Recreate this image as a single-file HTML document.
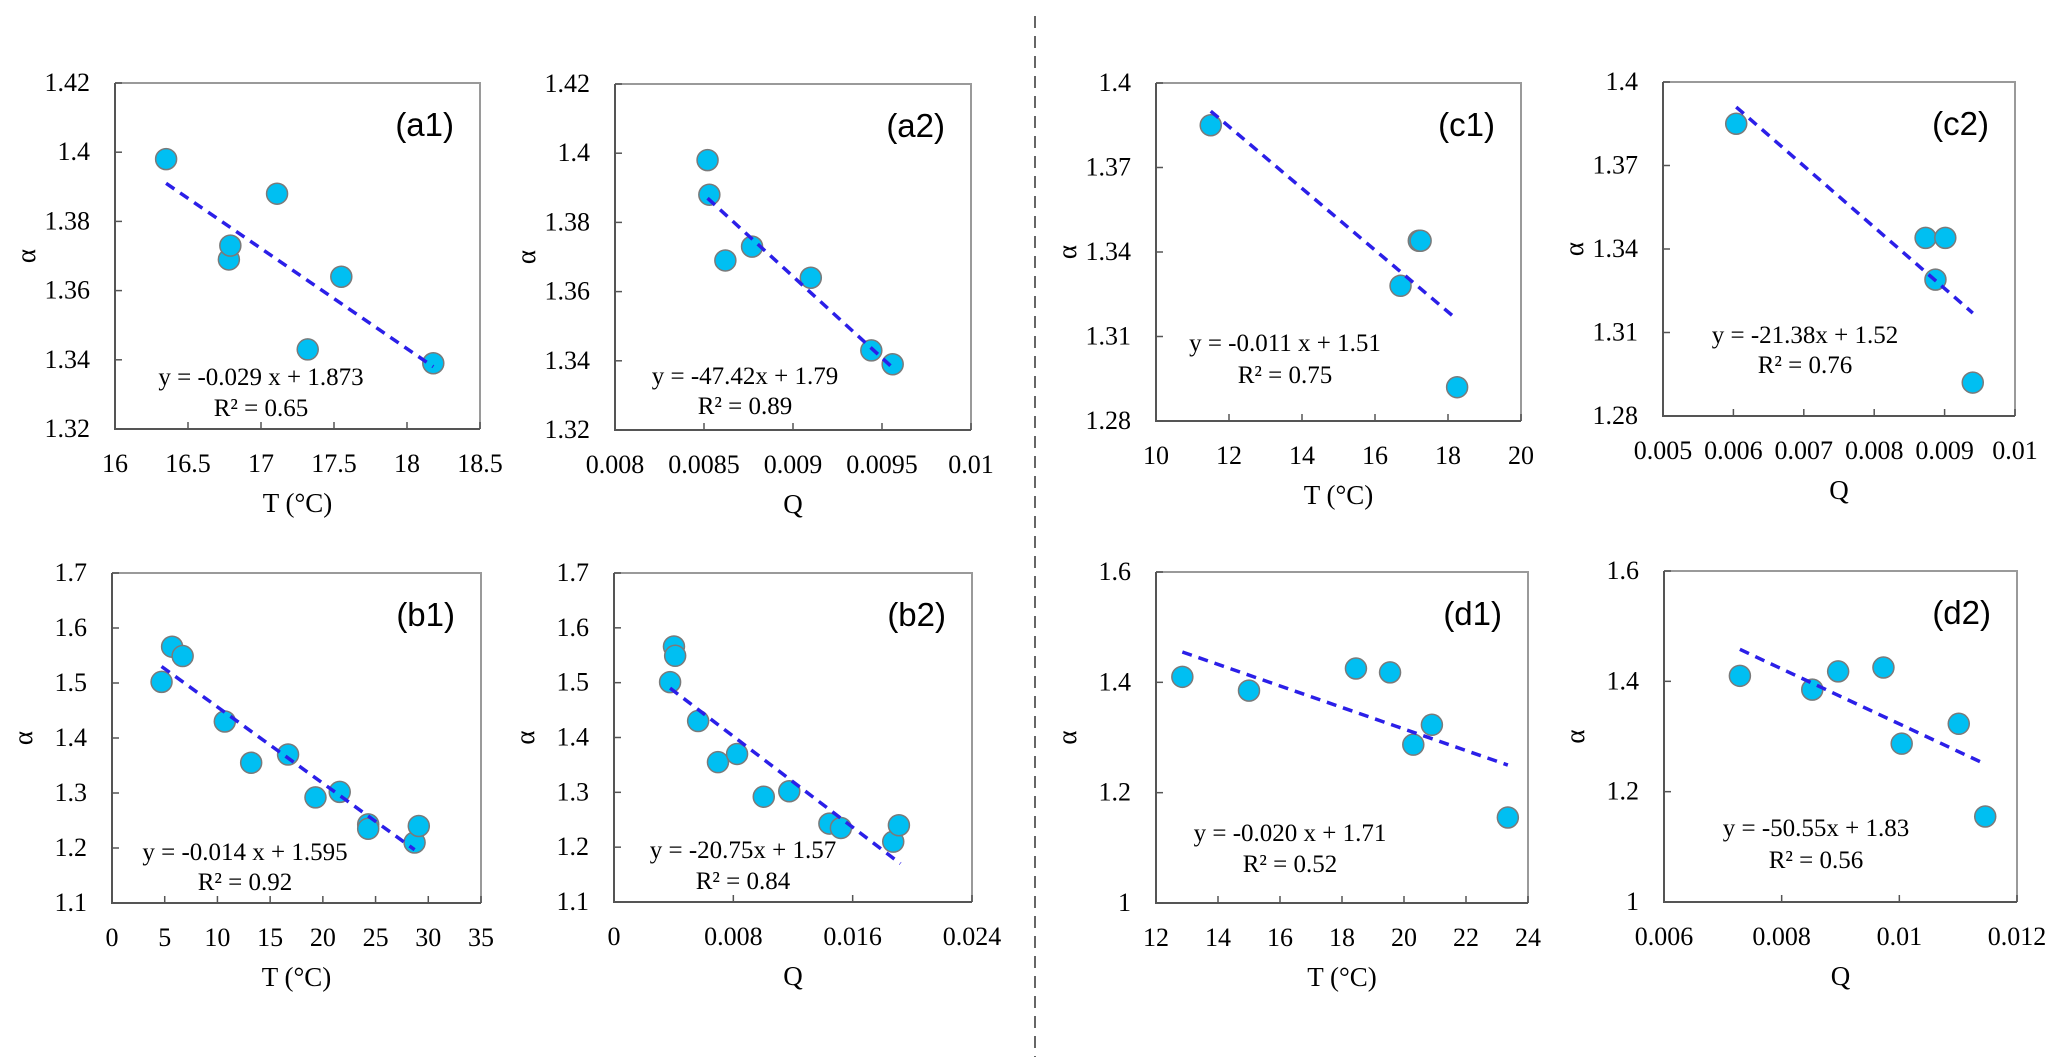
<!DOCTYPE html>
<html><head><meta charset="utf-8"><style>
html,body{margin:0;padding:0;background:#fff;}
svg{display:block;}
text{font-family:"Liberation Serif",serif;fill:#000;}
.pl{font-family:"Liberation Sans",sans-serif;font-size:33px;}
</style></head><body>
<svg id="fig" width="2067" height="1057" viewBox="0 0 2067 1057" xmlns="http://www.w3.org/2000/svg">
<line x1="1035" y1="16" x2="1035" y2="1057" stroke="#666" stroke-width="2" stroke-dasharray="12 8"/>
</svg>
<script>
// ---- data ----
const a1X=[16.35,16.78,16.79,17.11,17.55,17.32,18.18];
const a1Y=[1.398,1.369,1.373,1.388,1.364,1.343,1.339];
const a1TrendX=[16.35,18.18]; const a1TrendY=[1.391,1.338];
const a2X=[0.00852,0.00853,0.00862,0.00877,0.00910,0.00944,0.00956];
const a2Y=[1.398,1.388,1.369,1.373,1.364,1.343,1.339];
const a2TrendX=[0.00852,0.00956]; const a2TrendY=[1.387,1.338];
const b1X=[4.7,5.7,6.7,10.7,13.2,16.7,19.3,21.6,24.3,24.3,28.7,29.1];
const b1Y=[1.502,1.566,1.549,1.43,1.355,1.37,1.292,1.302,1.243,1.235,1.21,1.24];
const b1TrendX=[4.7,28.7]; const b1TrendY=[1.53,1.197];
const b2X=[0.00376,0.00402,0.0041,0.00564,0.00697,0.00825,0.01004,0.01175,0.01444,0.01521,0.01872,0.0191];
const b2Y=[1.501,1.566,1.549,1.43,1.355,1.37,1.292,1.302,1.243,1.235,1.21,1.24];
const b2TrendX=[0.00376,0.0192]; const b2TrendY=[1.49,1.17];
const c1X=[11.5,16.7,17.2,17.25,18.25];
const c1Y=[1.385,1.328,1.344,1.344,1.292];
const c1TrendX=[11.5,18.25]; const c1TrendY=[1.39,1.316];
const c2X=[0.00604,0.00873,0.00901,0.00887,0.0094];
const c2Y=[1.385,1.344,1.344,1.329,1.292];
const c2TrendX=[0.00604,0.0094]; const c2TrendY=[1.391,1.317];
const d1X=[12.85,15.0,18.45,19.55,20.3,20.9,23.35];
const d1Y=[1.41,1.385,1.425,1.418,1.287,1.323,1.155];
const d1TrendX=[12.85,23.35]; const d1TrendY=[1.455,1.25];
const d2X=[0.00729,0.00852,0.00896,0.00973,0.01004,0.01101,0.01146];
const d2Y=[1.41,1.385,1.418,1.425,1.287,1.323,1.155];
const d2TrendX=[0.00729,0.01146]; const d2TrendY=[1.458,1.25];
const aYTicks=[1.32,1.34,1.36,1.38,1.40,1.42]; const aYLabels=["1.32","1.34","1.36","1.38","1.4","1.42"];
const bYTicks=[1.1,1.2,1.3,1.4,1.5,1.6,1.7]; const bYLabels=["1.1","1.2","1.3","1.4","1.5","1.6","1.7"];
const cYTicks=[1.28,1.31,1.34,1.37,1.40]; const cYLabels=["1.28","1.31","1.34","1.37","1.4"];
const dYTicks=[1.0,1.2,1.4,1.6]; const dYLabels=["1","1.2","1.4","1.6"];
const a1XTicks=[16,16.5,17,17.5,18,18.5]; const a1XLabels=["16","16.5","17","17.5","18","18.5"];
const a2XTicks=[0.008,0.0085,0.009,0.0095,0.01]; const a2XLabels=["0.008","0.0085","0.009","0.0095","0.01"];
const b1XTicks=[0,5,10,15,20,25,30,35]; const b1XLabels=["0","5","10","15","20","25","30","35"];
const b2XTicks=[0,0.008,0.016,0.024]; const b2XLabels=["0","0.008","0.016","0.024"];
const c1XTicks=[10,12,14,16,18,20]; const c1XLabels=["10","12","14","16","18","20"];
const c2XTicks=[0.005,0.006,0.007,0.008,0.009,0.01]; const c2XLabels=["0.005","0.006","0.007","0.008","0.009","0.01"];
const d1XTicks=[12,14,16,18,20,22,24]; const d1XLabels=["12","14","16","18","20","22","24"];
const d2XTicks=[0.006,0.008,0.01,0.012]; const d2XLabels=["0.006","0.008","0.01","0.012"];

const panels=[
 {id:'a1',L:115,R:480,T:83,B:429,xs:a1X,ys:a1Y,tx:a1TrendX,ty:a1TrendY,yt:aYTicks,yl:aYLabels,xt:a1XTicks,xl:a1XLabels,xt2:'T (°C)',eq:'y = -0.029 x + 1.873',r2:'0.65',ex:146,e1:44,e2:13},
 {id:'a2',L:615,R:971,T:84,B:430,xs:a2X,ys:a2Y,tx:a2TrendX,ty:a2TrendY,yt:aYTicks,yl:aYLabels,xt:a2XTicks,xl:a2XLabels,xt2:'Q',eq:'y = -47.42x + 1.79',r2:'0.89',ex:130,e1:46,e2:16},
 {id:'b1',L:112,R:481,T:573,B:903,xs:b1X,ys:b1Y,tx:b1TrendX,ty:b1TrendY,yt:bYTicks,yl:bYLabels,xt:b1XTicks,xl:b1XLabels,xt2:'T (°C)',eq:'y = -0.014 x + 1.595',r2:'0.92',ex:133,e1:43,e2:13},
 {id:'b2',L:614,R:972,T:573,B:902,xs:b2X,ys:b2Y,tx:b2TrendX,ty:b2TrendY,yt:bYTicks,yl:bYLabels,xt:b2XTicks,xl:b2XLabels,xt2:'Q',eq:'y = -20.75x + 1.57',r2:'0.84',ex:129,e1:44,e2:13},
 {id:'c1',L:1156,R:1521,T:83,B:421,xs:c1X,ys:c1Y,tx:c1TrendX,ty:c1TrendY,yt:cYTicks,yl:cYLabels,xt:c1XTicks,xl:c1XLabels,xt2:'T (°C)',eq:'y = -0.011 x + 1.51',r2:'0.75',ex:129,e1:70,e2:38},
 {id:'c2',L:1663,R:2015,T:82,B:416,xs:c2X,ys:c2Y,tx:c2TrendX,ty:c2TrendY,yt:cYTicks,yl:cYLabels,xt:c2XTicks,xl:c2XLabels,xt2:'Q',eq:'y = -21.38x + 1.52',r2:'0.76',ex:142,e1:73,e2:43},
 {id:'d1',L:1156,R:1528,T:572,B:903,xs:d1X,ys:d1Y,tx:d1TrendX,ty:d1TrendY,yt:dYTicks,yl:dYLabels,xt:d1XTicks,xl:d1XLabels,xt2:'T (°C)',eq:'y = -0.020 x + 1.71',r2:'0.52',ex:134,e1:62,e2:31},
 {id:'d2',L:1664,R:2017,T:571,B:902,xs:d2X,ys:d2Y,tx:d2TrendX,ty:d2TrendY,yt:dYTicks,yl:dYLabels,xt:d2XTicks,xl:d2XLabels,xt2:'Q',eq:'y = -50.55x + 1.83',r2:'0.56',ex:152,e1:66,e2:34}
];
const NS='http://www.w3.org/2000/svg';
const svg=document.getElementById('fig');
function mk(tag,attrs,parent,txt){const e=document.createElementNS(NS,tag);for(const k in attrs)e.setAttribute(k,attrs[k]);if(txt!==undefined)e.textContent=txt;parent.appendChild(e);return e;}
panels.forEach(p=>{
  const g=mk('g',{},svg);
  
  
  const x0=p.xt[0],x1=p.xt[p.xt.length-1],y0=p.yt[0],y1=p.yt[p.yt.length-1];
  const sx=v=>p.L+(v-x0)/(x1-x0)*(p.R-p.L);
  const sy=v=>p.B-(v-y0)/(y1-y0)*(p.B-p.T);
  const fr=mk('path',{d:`M${p.L},${p.T}H${p.R}V${p.B}`,fill:'none',stroke:'#9a9a9a','stroke-width':2},g);
  
  
  const ax=mk('path',{d:`M${p.L},${p.T}V${p.B}H${p.R}`,fill:'none',stroke:'#555','stroke-width':2},g);
  
  
  p.yt.forEach((v,i)=>{
    const y=sy(v);
    mk('line',{x1:p.L,y1:y,x2:p.L+7,y2:y,stroke:'#555','stroke-width':1.5},g);
    const t=mk('text',{x:p.L-25,y:y+8,'text-anchor':'end','font-size':26},g,p.yl[i]);
    
    
  });
  p.xt.forEach((v,i)=>{
    const x=sx(v);
    mk('line',{x1:x,y1:p.B,x2:x,y2:p.B-7,stroke:'#555','stroke-width':1.5},g);
    const t=mk('text',{x:x,y:p.B+43,'text-anchor':'middle','font-size':26},g,p.xl[i]);
    
    
  });
  const xtt=mk('text',{x:(p.L+p.R)/2,y:p.B+83,'text-anchor':'middle','font-size':27},g,p.xt2);
  
  
  const yc=(p.T+p.B)/2;
  const ytt=mk('text',{x:p.L-88,y:yc,'text-anchor':'middle','font-size':27,transform:`rotate(-90 ${p.L-88} ${yc})`,dy:8},g,'α');
  
  
  const tl=mk('line',{x1:sx(p.tx[0]),y1:sy(p.ty[0]),x2:sx(p.tx[1]),y2:sy(p.ty[1]),stroke:'#2b1fe8','stroke-width':3.5,'stroke-dasharray':'10 7'},g);
  p.xs.forEach((v,i)=>{
    const c=mk('circle',{cx:sx(v),cy:sy(p.ys[i]),r:10.5,fill:'#00bff2',stroke:'#7a7a7a','stroke-width':1.5},g);
    
    
  });
  g.appendChild(tl);
  
  
  const pl=mk('text',{x:p.R-26,y:p.T+53,'text-anchor':'end',class:'pl'},g,'('+p.id+')');
  
  
  const eq=mk('text',{x:p.L+p.ex,y:p.B-p.e1,'text-anchor':'middle','font-size':25},g,p.eq);
  
  
  const r2=mk('text',{x:p.L+p.ex,y:p.B-p.e2,'text-anchor':'middle','font-size':25},g,'R² = '+p.r2);
  
  
});
</script>
</body></html>
